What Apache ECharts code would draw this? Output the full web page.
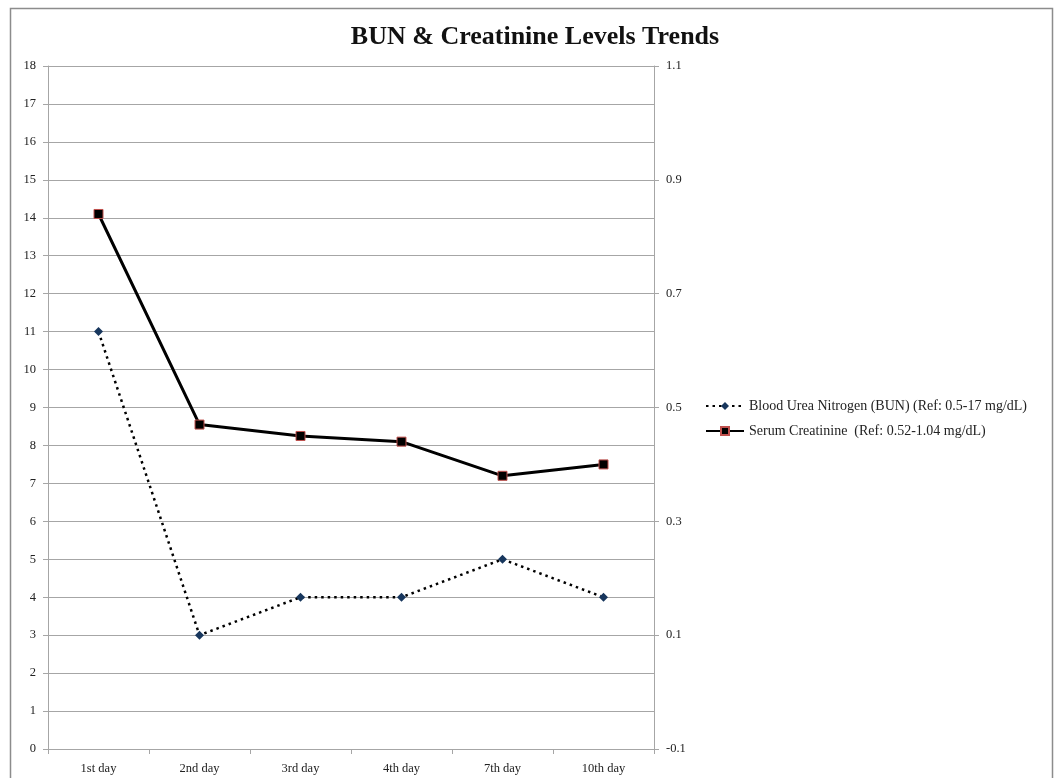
<!DOCTYPE html>
<html>
<head>
<meta charset="utf-8">
<script src="https://cdn.jsdelivr.net/npm/echarts@6/dist/echarts.min.js"></script>
<style>
  html, body { margin: 0; padding: 0; background: #fff; }
  #chart { width: 1057px; height: 778px; }
</style>
</head>
<body>
<div id="chart"></div>
<script>
// Days on which the labs were drawn
const days = ['1st day', '2nd day', '3rd day', '4th day', '7th day', '10th day'];
// Blood urea nitrogen, left axis
const bunValues = [11, 3, 4, 4, 5, 4];
// Serum creatinine, right axis
const creatinineValues = [0.84, 0.47, 0.45, 0.44, 0.38, 0.40];
const bunName = 'Blood Urea Nitrogen (BUN) (Ref: 0.5-17 mg/dL)';
const creatinineName = 'Serum Creatinine  (Ref: 0.52-1.04 mg/dL)';

const serif = '"Liberation Serif", "DejaVu Serif", serif';
const gray = '#a6a6a6';

const chart = echarts.init(document.getElementById('chart'), null, { renderer: 'canvas' });
chart.setOption({
  backgroundColor: '#fff',
  animation: false,
  title: {
    text: 'BUN & Creatinine Levels Trends',
    left: 530, textAlign: 'center', top: 19,
    textStyle: { fontFamily: serif, fontSize: 26, fontWeight: 'bold', color: '#111' }
  },
  graphic: [{
    type: 'rect', silent: true,
    shape: { x: 10.5, y: 8.5, width: 1042, height: 790 },
    style: { fill: 'none', stroke: '#8c8c8c', lineWidth: 1.5 }
  }],
  legend: {
    orient: 'vertical', left: 700, top: 394, itemGap: 11,
    itemWidth: 38, itemHeight: 10,
    textStyle: { fontFamily: serif, fontSize: 14, color: '#222' },
    data: [bunName, creatinineName]
  },
  grid: { left: 48, right: 403, top: 66, bottom: 29 },
  xAxis: {
    type: 'category', data: days, boundaryGap: true,
    axisLine: { lineStyle: { color: gray, width: 1 } },
    axisTick: { show: true, alignWithLabel: false, length: 5, lineStyle: { color: gray } },
    axisLabel: { fontFamily: serif, fontSize: 12.5, color: '#222', margin: 13 }
  },
  yAxis: [{
    type: 'value', min: 0, max: 18, interval: 1, position: 'left',
    axisLine: { show: true, lineStyle: { color: gray } },
    axisTick: { show: true, length: 5, lineStyle: { color: gray } },
    splitLine: { lineStyle: { color: gray, width: 1 } },
    axisLabel: { fontFamily: serif, fontSize: 12.5, color: '#222', margin: 12 }
  }, {
    type: 'value', min: -0.1, max: 1.1, interval: 0.2, position: 'right',
    axisLine: { show: true, lineStyle: { color: gray } },
    axisTick: { show: true, length: 5, lineStyle: { color: gray } },
    splitLine: { show: false },
    axisLabel: { fontFamily: serif, fontSize: 12.5, color: '#222', margin: 12,
      formatter: v => (Math.round(v * 10) / 10).toString() }
  }],
  series: [{
    name: bunName, type: 'line', yAxisIndex: 0, data: bunValues,
    symbol: 'diamond', symbolSize: 9,
    itemStyle: { color: '#17365d', borderColor: '#17365d', borderWidth: 0 },
    lineStyle: { color: '#000', width: 2.5, type: [2.5, 4] },
    z: 3
  }, {
    name: creatinineName, type: 'line', yAxisIndex: 1, data: creatinineValues,
    symbol: 'rect', symbolSize: 9,
    itemStyle: { color: '#000', borderColor: '#c0504d', borderWidth: 1 },
    lineStyle: { color: '#000', width: 3 },
    z: 4
  }]
});
</script>
</body>
</html>
